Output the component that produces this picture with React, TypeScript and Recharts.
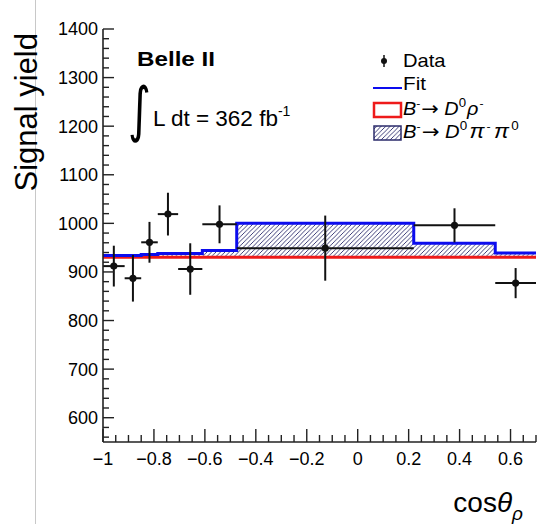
import React from 'react';
import { ComposedChart, Area, Line, Scatter, ErrorBar, XAxis, YAxis, Legend } from 'recharts';

// bins in cos(theta_rho) and yields per bin
const binEdges = [-1, -0.915, -0.85, -0.785, -0.705, -0.61, -0.475, 0.22, 0.54, 0.7];
const dataYield = [912, 887, 961, 1019, 906, 998, 949, 996, 877];
const dataError = [42, 48, 42, 44, 53, 39, 67, 35, 31];
const fitYield = [934, 934, 936, 938, 938, 944, 1000, 959, 939];
const rhoYield = [930, 930, 930, 930, 930, 930, 930, 930, 930];

const xMajorTicks = [-1, -0.8, -0.6, -0.4, -0.2, 0, 0.2, 0.4, 0.6];
const xMinorTicks = [
  -0.95, -0.9, -0.85, -0.75, -0.7, -0.65, -0.55, -0.5, -0.45, -0.35, -0.3, -0.25,
  -0.15, -0.1, -0.05, 0.05, 0.1, 0.15, 0.25, 0.3, 0.35, 0.45, 0.5, 0.55, 0.65, 0.7,
];
const yMajorTicks = [600, 700, 800, 900, 1000, 1100, 1200, 1300, 1400];
const yMinorTicks = [
  560, 580, 620, 640, 660, 680, 720, 740, 760, 780, 820, 840, 860, 880, 920, 940, 960, 980,
  1020, 1040, 1060, 1080, 1120, 1140, 1160, 1180, 1220, 1240, 1260, 1280, 1320, 1340, 1360, 1380,
];

const W = 538;
const H = 524;
const PLOT_LEFT = 103;
const PLOT_BOTTOM = 442;
const FONT = '"Liberation Sans", Arial, Helvetica, sans-serif';
const AXIS = '#222';
const BLUE = '#0c0cee';
const RED = '#ee1a1a';
const HATCH = '#2b2b6b';

const stepRows = binEdges.map((x, i) => {
  const k = Math.min(i, fitYield.length - 1);
  return { x, fit: fitYield[k], rho: rhoYield[k] };
});

const points = dataYield.map((y, i) => ({
  x: (binEdges[i] + binEdges[i + 1]) / 2,
  y,
  ex: (binEdges[i + 1] - binEdges[i]) / 2,
  ey: dataError[i],
}));

const isMajor = (list: number[], v: number) => list.some((m) => Math.abs(m - v) < 1e-6);
const fmtX = (v: number) => (Math.abs(v) < 1e-9 ? '0' : v < 0 ? '\u2212' + String(-v) : String(v));

// ticks point into the frame, like the ROOT original
const XTick = (props: any) => {
  const { x, payload } = props;
  const major = isMajor(xMajorTicks, payload.value);
  return (
    <g>
      <line x1={x} x2={x} y1={PLOT_BOTTOM} y2={PLOT_BOTTOM - (major ? 13 : 7)} stroke={AXIS} strokeWidth={1.4} />
      {major && (
        <text x={x} y={PLOT_BOTTOM + 10} dy="0.71em" textAnchor="middle" fontSize={18} fontFamily={FONT} fill="#000">
          {fmtX(payload.value)}
        </text>
      )}
    </g>
  );
};

const YTick = (props: any) => {
  const { y, payload } = props;
  const major = isMajor(yMajorTicks, payload.value);
  return (
    <g>
      <line x1={PLOT_LEFT} x2={PLOT_LEFT + (major ? 11 : 6)} y1={y} y2={y} stroke={AXIS} strokeWidth={1.4} />
      {major && (
        <text x={PLOT_LEFT - 5} y={y} dy="0.36em" textAnchor="end" fontSize={18} fontFamily={FONT} fill="#000">
          {payload.value}
        </text>
      )}
    </g>
  );
};

const Arrow = () => (
  <tspan dy={8} dx={1} fontSize={19} fontFamily="DejaVu Sans">
    {'\u2192'}
  </tspan>
);

const LegendBox = () => (
  <svg width={172} height={100} style={{ display: 'block' }}>
    <defs>
      <pattern id="hatch-legend" patternUnits="userSpaceOnUse" width="4.5" height="4.5">
        <path d="M-1,1 l2,-2 M0,4.5 l4.5,-4.5 M3.5,5.5 l2,-2" stroke={HATCH} strokeWidth="0.9" />
      </pattern>
    </defs>
    <g fontFamily={FONT} fontSize={18} fill="#000">
      <line x1={19} x2={19} y1={7} y2={19} stroke="#111" strokeWidth={1.5} />
      <circle cx={19} cy={13} r={3} fill="#111" />
      <text transform="translate(38,19) scale(1.12,1)">Data</text>

      <line x1={8} x2={37} y1={40} y2={40} stroke={BLUE} strokeWidth={2} />
      <text transform="translate(38,42) scale(1.15,1)">Fit</text>

      <rect x={9} y={55} width={27} height={14} fill="#fff" stroke={RED} strokeWidth={2.5} />
      <text transform="translate(38,67) scale(1.1,1)">
        <tspan fontStyle="italic">B</tspan>
        <tspan fontSize={11} dy={-8}>-</tspan>
        <Arrow />
        <tspan fontStyle="italic" dx={5}>D</tspan>
        <tspan fontSize={12} dy={-8}>0</tspan>
        <tspan dy={8} dx={1} fontStyle="italic">ρ</tspan>
        <tspan fontSize={11} dy={-8} dx={1}>-</tspan>
      </text>

      <rect x={9} y={78} width={27} height={14} fill="url(#hatch-legend)" stroke={HATCH} strokeWidth={1.5} />
      <text transform="translate(38,90) scale(1.12,1)">
        <tspan fontStyle="italic">B</tspan>
        <tspan fontSize={11} dy={-8}>-</tspan>
        <Arrow />
        <tspan fontStyle="italic" dx={5}>D</tspan>
        <tspan fontSize={12} dy={-8}>0</tspan>
        <tspan dy={8} dx={2} fontStyle="italic" fontSize={20}>π</tspan>
        <tspan fontSize={11} dy={-8} dx={2}>-</tspan>
        <tspan dy={8} dx={3} fontStyle="italic" fontSize={20}>π</tspan>
        <tspan fontSize={12} dy={-8} dx={2}>0</tspan>
      </text>
    </g>
  </svg>
);

const App = () => {
  return (
    <div style={{ position: 'absolute', left: 0, top: 0, width: W, height: H, background: '#fff' }}>
      <ComposedChart width={W} height={H} margin={{ top: 29, right: 2, bottom: 42, left: 43 }}>
        <defs>
          <pattern id="hatch" patternUnits="userSpaceOnUse" width="4.5" height="4.5">
            <path d="M-1,1 l2,-2 M0,4.5 l4.5,-4.5 M3.5,5.5 l2,-2" stroke={HATCH} strokeWidth="0.9" />
          </pattern>
        </defs>
        <XAxis
          dataKey="x"
          type="number"
          domain={[-1, 0.7]}
          ticks={[...xMajorTicks, ...xMinorTicks]}
          interval={0}
          tick={<XTick />}
          tickLine={false}
          tickSize={0}
          height={40}
          axisLine={{ stroke: AXIS, strokeWidth: 1.6 }}
          allowDataOverflow
        />
        <XAxis
          xAxisId="top"
          orientation="top"
          type="number"
          domain={[-1, 0.7]}
          height={0}
          tick={false}
          tickLine={false}
          axisLine={{ stroke: AXIS, strokeWidth: 1.6 }}
        />
        <YAxis
          type="number"
          domain={[550, 1400]}
          ticks={[...yMajorTicks, ...yMinorTicks]}
          interval={0}
          tick={<YTick />}
          tickLine={false}
          tickSize={0}
          width={60}
          axisLine={{ stroke: AXIS, strokeWidth: 1.6 }}
          allowDataOverflow
        />
        <YAxis
          yAxisId="right"
          orientation="right"
          type="number"
          domain={[550, 1400]}
          width={0}
          tick={false}
          tickLine={false}
          axisLine={{ stroke: AXIS, strokeWidth: 1.6 }}
        />
        <Area
          data={stepRows}
          dataKey={(d: any) => [d.rho, d.fit]}
          type="stepAfter"
          fill="url(#hatch)"
          fillOpacity={1}
          stroke="none"
          isAnimationActive={false}
        />
        <Line data={stepRows} dataKey="rho" type="stepAfter" stroke={RED} strokeWidth={3} dot={false} isAnimationActive={false} />
        <Line data={stepRows} dataKey="fit" type="stepAfter" stroke={BLUE} strokeWidth={3} dot={false} isAnimationActive={false} />
        <Scatter
          data={points}
          dataKey="y"
          isAnimationActive={false}
          shape={(p: any) => <circle cx={p.cx} cy={p.cy} r={3.6} fill="#111" />}
        >
          <ErrorBar dataKey="ex" direction="x" width={0} stroke="#111" strokeWidth={2} />
          <ErrorBar dataKey="ey" direction="y" width={0} stroke="#111" strokeWidth={2} />
        </Scatter>
        <Legend
          layout="vertical"
          align="center"
          verticalAlign="middle"
          content={() => <LegendBox />}
          wrapperStyle={{ left: 365, top: 48, width: 172 }}
        />
      </ComposedChart>

      <svg
        width={W}
        height={H}
        style={{ position: 'absolute', left: 0, top: 0, pointerEvents: 'none' }}
        fontFamily={FONT}
      >
        <line x1={35.5} x2={35.5} y1={0} y2={H} stroke="#c8c8c8" strokeWidth={1} />
        <text transform="translate(37,33) rotate(-90)" textAnchor="end" fontSize={31} fill="#000">
          Signal yield
        </text>
        <text x={523} y={512} textAnchor="end" fontSize={28} fill="#000">
          cos<tspan fontStyle="italic">θ</tspan>
          <tspan fontSize={19} fontStyle="italic" dy={8}>ρ</tspan>
        </text>
        <text x={137} y={66} fontSize={20} fontWeight="bold" textLength={78} lengthAdjust="spacingAndGlyphs" fill="#000">
          Belle II
        </text>
        <text transform="translate(128,130) scale(1.1,1.5)" fontSize={40} fontFamily="DejaVu Sans" fill="#000">
          ∫
        </text>
        <text x={153} y={126} fontSize={22.5} fill="#000">
          L dt = 362 fb<tspan fontSize={14} dy={-10}>-1</tspan>
        </text>
      </svg>
    </div>
  );
};

export default App;
